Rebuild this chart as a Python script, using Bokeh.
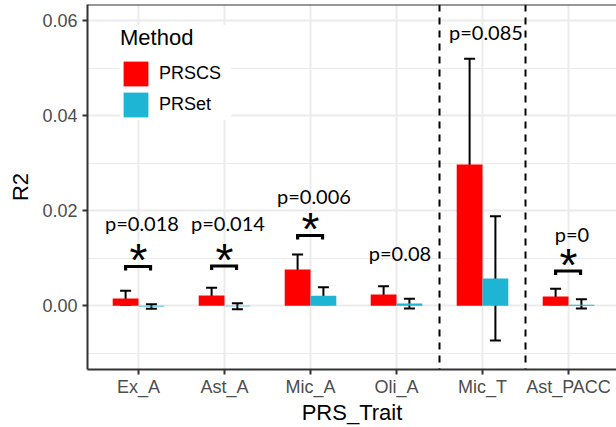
from bokeh.plotting import figure
from bokeh.models import (ColumnDataSource, Range1d, FixedTicker, Whisker, TeeHead,
                          Span, Legend, LegendItem, CustomJSTickFormatter)
from bokeh.core.properties import value
from bokeh.embed import file_html
from bokeh.resources import INLINE

# ---------------- data ----------------
categories = ["Ex_A", "Ast_A", "Mic_A", "Oli_A", "Mic_T", "Ast_PACC"]

prscs_r2 = [0.00154, 0.00217, 0.00764, 0.00238, 0.02975, 0.00196]
prscs_lo = [0.00020, 0.00042, 0.00484, 0.00055, 0.00758, 0.00034]
prscs_hi = [0.00316, 0.00379, 0.01080, 0.00413, 0.05200, 0.00358]

prset_r2 = [-0.00015, -0.00010, 0.00210, 0.00048, 0.00575, 0.00020]
prset_lo = [-0.00063, -0.00070, 0.00034, -0.00057, -0.00730, -0.00057]
prset_hi = [0.00034, 0.00055, 0.00390, 0.00147, 0.01886, 0.00139]

p_labels = ["p=0.018", "p=0.014", "p=0.006", "p=0.08", "p=0.085", "p=0"]
p_label_y = [0.01564, 0.01570, 0.02146, 0.00953, 0.05598, 0.01338]

significant = [True, True, True, False, False, True]
bracket_y = [0.00827, 0.00838, 0.01480, None, None, 0.00733]

group_breaks_after = [4, 5]   # dashed separators after these category positions

y_major = [0.0, 0.02, 0.04, 0.06]
y_minor = [-0.01, 0.01, 0.03, 0.05]

# ---------------- derived ----------------
xi = list(range(1, len(categories) + 1))
dodge = 0.15
bar_w = 0.3
Y0, Y1 = -0.0134, 0.0634

src_a = ColumnDataSource(dict(x=[v - dodge for v in xi], top=prscs_r2, lo=prscs_lo, hi=prscs_hi))
src_b = ColumnDataSource(dict(x=[v + dodge for v in xi], top=prset_r2, lo=prset_lo, hi=prset_hi))

p = figure(width=616, height=427, output_backend="svg", toolbar_location=None,
           x_range=Range1d(0.407, 6.558), y_range=Range1d(Y0, Y1),
           min_border_left=87, min_border_right=0, min_border_top=4, min_border_bottom=58)
p.outline_line_color = None
p.background_fill_color = "white"
p.border_fill_color = "white"

RED = "#FF0000"
BLUE = "#1EB5D5"
AX = "#333333"
GRID = "#EBEBEB"
FONT = "Liberation Sans"

r1 = p.vbar(x="x", top="top", bottom=0, width=bar_w, source=src_a,
            fill_color=RED, line_color=None)
r2 = p.vbar(x="x", top="top", bottom=0, width=bar_w, source=src_b,
            fill_color=BLUE, line_color=None)

for src in (src_a, src_b):
    w = Whisker(source=src, base="x", lower="lo", upper="hi", dimension="height",
                line_color="black", line_width=2,
                upper_head=TeeHead(size=11, line_color="black", line_width=2),
                lower_head=TeeHead(size=11, line_color="black", line_width=2))
    p.add_layout(w)

for b in group_breaks_after:
    p.add_layout(Span(location=b + 0.5, dimension="height", line_color="black",
                      line_width=2, line_dash="7 6"))

# top panel border
p.add_layout(Span(location=Y1, dimension="width", line_color=AX, line_width=2))

# significance brackets and stars
leg = 0.00084
bxs, bys, sx, sy = [], [], [], []
for i, s in enumerate(significant):
    if s:
        x0, x1 = xi[i] - dodge, xi[i] + dodge - 0.01
        yb = bracket_y[i]
        bxs.append([x0, x0, x1, x1])
        bys.append([yb - leg, yb, yb, yb - leg])
        sx.append(xi[i])
        sy.append(yb + 0.0007)
p.multi_line(xs=bxs, ys=bys, line_color="black", line_width=3.2, line_join="miter")
p.text(x=sx, y=sy, text=["*"] * len(sx), text_font=value(FONT), text_font_size="46px",
       text_align="center", text_baseline="alphabetic", text_color="black", y_offset=-3)

p.text(x=[v + 0.04 for v in xi], y=p_label_y, text=p_labels, text_font=value("Lato"),
       text_font_size="20px", text_align="center", text_baseline="alphabetic",
       text_color="black", y_offset=-8)

# axes
p.xaxis.ticker = FixedTicker(ticks=xi)
p.xaxis.major_label_overrides = {v: c for v, c in zip(xi, categories)}
p.yaxis.ticker = FixedTicker(ticks=y_major, minor_ticks=y_minor)
p.yaxis.formatter = CustomJSTickFormatter(code="return tick.toFixed(2);")

for ax in (p.xaxis[0], p.yaxis[0]):
    ax.axis_line_color = AX
    ax.axis_line_width = 2
    ax.major_tick_line_color = AX
    ax.major_tick_line_width = 2
    ax.major_tick_out = 5
    ax.major_tick_in = 0
    ax.minor_tick_out = 0
    ax.minor_tick_in = 0
    ax.major_label_text_font = FONT
    ax.major_label_text_font_size = "18px"
    ax.major_label_text_color = "#4D4D4D"
    ax.axis_label_text_font = FONT
    ax.axis_label_text_font_size = "22px"
    ax.axis_label_text_font_style = "normal"
    ax.axis_label_text_color = "black"

p.xaxis.axis_label = "PRS_Trait"
p.yaxis.axis_label = "R2"
p.xaxis.major_label_standoff = 2
p.xaxis.axis_label_standoff = 0
p.yaxis.major_label_standoff = 5
p.yaxis.axis_label_standoff = 6

p.xgrid.ticker = FixedTicker(ticks=xi)
p.xgrid.grid_line_color = GRID
p.xgrid.grid_line_width = 2
p.ygrid.grid_line_color = GRID
p.ygrid.grid_line_width = 2
p.ygrid.minor_grid_line_color = GRID
p.ygrid.minor_grid_line_width = 1

legend = Legend(items=[LegendItem(label="PRSCS", renderers=[r1]),
                       LegendItem(label="PRSet", renderers=[r2])],
                title="Method", location=(33, 249))
legend.title_text_font = FONT
legend.title_text_font_size = "22px"
legend.title_text_font_style = "normal"
legend.title_text_color = "black"
legend.title_standoff = 7
legend.label_text_font = FONT
legend.label_text_font_size = "18px"
legend.label_text_color = "black"
legend.glyph_width = 31
legend.glyph_height = 31
legend.spacing = -5
legend.label_standoff = 8
legend.label_width = 72
legend.padding = 15
legend.margin = 0
legend.border_line_color = None
legend.background_fill_color = "white"
legend.background_fill_alpha = 1.0
p.add_layout(legend)

open("out.html", "w").write(file_html(p, INLINE))
